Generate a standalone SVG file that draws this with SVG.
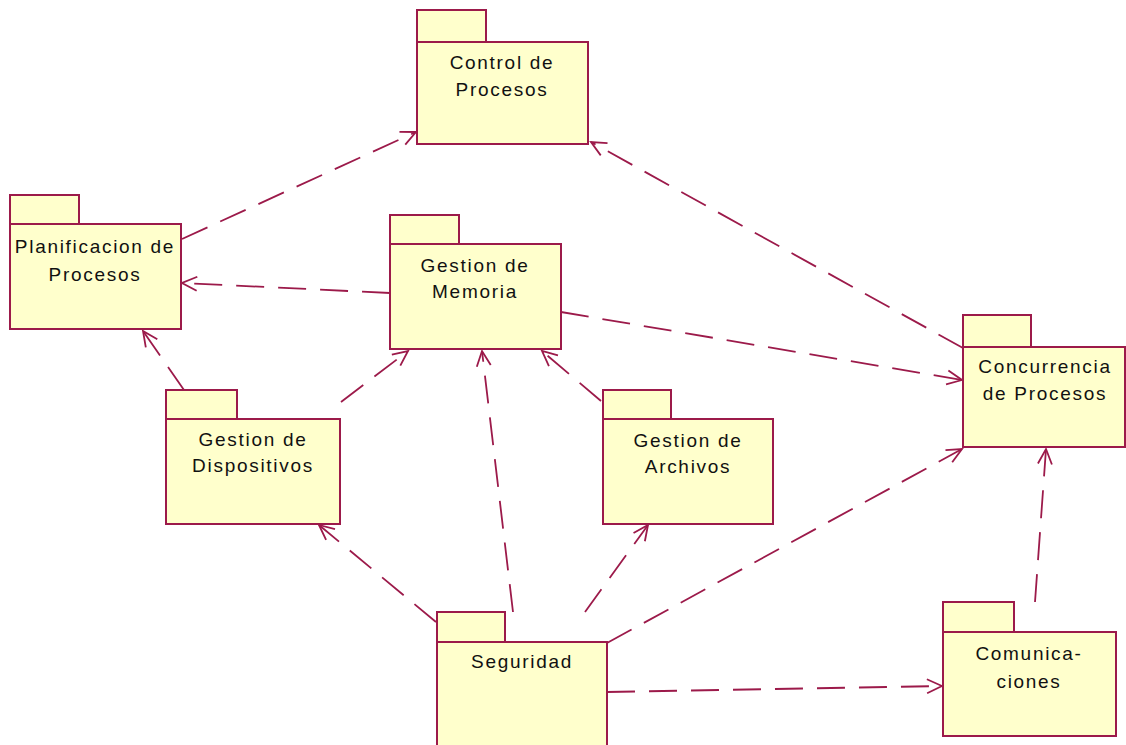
<svg xmlns="http://www.w3.org/2000/svg" width="1126" height="745" viewBox="0 0 1126 745">
<style>
.pkg rect{fill:#ffffcc;stroke:#9c1a4a;stroke-width:2}
.pkg text{font-family:"Liberation Sans",Arial,sans-serif;font-size:19px;letter-spacing:1.7px;fill:#111;text-anchor:middle}
.dep{fill:none;stroke:#9c1a4a;stroke-width:1.8;stroke-dasharray:28 14}
</style>
<defs>
<marker id="open" markerUnits="userSpaceOnUse" viewBox="-17 -9 19 18" refX="0" refY="0" markerWidth="19" markerHeight="18" orient="auto">
<path d="M-15,-7 L0,0 L-15,7" fill="none" stroke="#9c1a4a" stroke-width="1.8"/>
</marker>
</defs>
<rect width="1126" height="745" fill="#ffffff"/>
<g id="connectors">
<line class="dep" x1="182" y1="239" x2="416" y2="132" marker-end="url(#open)"/>
<line class="dep" x1="963" y1="348" x2="591" y2="142" marker-end="url(#open)"/>
<line class="dep" x1="390" y1="293" x2="182" y2="283" marker-end="url(#open)"/>
<line class="dep" x1="561" y1="312" x2="962" y2="380" marker-end="url(#open)"/>
<line class="dep" x1="184" y1="390" x2="143" y2="331" marker-end="url(#open)"/>
<line class="dep" x1="341" y1="402" x2="408" y2="351" marker-end="url(#open)"/>
<line class="dep" x1="513" y1="612" x2="482" y2="351" marker-end="url(#open)"/>
<line class="dep" x1="601" y1="401" x2="542" y2="351" marker-end="url(#open)"/>
<line class="dep" x1="436" y1="622" x2="319" y2="525" marker-end="url(#open)"/>
<line class="dep" x1="585" y1="612" x2="648" y2="525" marker-end="url(#open)"/>
<line class="dep" x1="607" y1="643" x2="962" y2="449" marker-end="url(#open)"/>
<line class="dep" x1="607" y1="692" x2="942" y2="686" marker-end="url(#open)"/>
<line class="dep" x1="1035" y1="602" x2="1046" y2="449" marker-end="url(#open)"/>
</g>
<g id="control" class="pkg">
<rect x="417" y="10" width="69" height="32"/>
<rect x="417" y="42" width="171" height="102"/>
<text x="502" y="69">Control de</text>
<text x="502" y="96">Procesos</text>
</g>
<g id="planificacion" class="pkg">
<rect x="10" y="195" width="69" height="29"/>
<rect x="10" y="224" width="171" height="105"/>
<text x="95" y="253">Planificacion de</text>
<text x="95" y="281">Procesos</text>
</g>
<g id="memoria" class="pkg">
<rect x="390" y="215" width="69" height="29"/>
<rect x="390" y="244" width="171" height="105"/>
<text x="475" y="272">Gestion de</text>
<text x="475" y="298">Memoria</text>
</g>
<g id="concurrencia" class="pkg">
<rect x="963" y="315" width="68" height="32"/>
<rect x="963" y="347" width="162" height="100"/>
<text x="1045" y="373">Concurrencia</text>
<text x="1045" y="400">de Procesos</text>
</g>
<g id="dispositivos" class="pkg">
<rect x="166" y="390" width="71" height="29"/>
<rect x="166" y="419" width="174" height="105"/>
<text x="253" y="446">Gestion de</text>
<text x="253" y="472">Dispositivos</text>
</g>
<g id="archivos" class="pkg">
<rect x="603" y="390" width="68" height="29"/>
<rect x="603" y="419" width="170" height="105"/>
<text x="688" y="447">Gestion de</text>
<text x="688" y="473">Archivos</text>
</g>
<g id="seguridad" class="pkg">
<rect x="437" y="612" width="68" height="30"/>
<rect x="437" y="642" width="170" height="110"/>
<text x="522" y="668">Seguridad</text>
</g>
<g id="comunicaciones" class="pkg">
<rect x="943" y="602" width="71" height="30"/>
<rect x="943" y="632" width="173" height="104"/>
<text x="1029" y="660">Comunica-</text>
<text x="1029" y="688">ciones</text>
</g>
</svg>
